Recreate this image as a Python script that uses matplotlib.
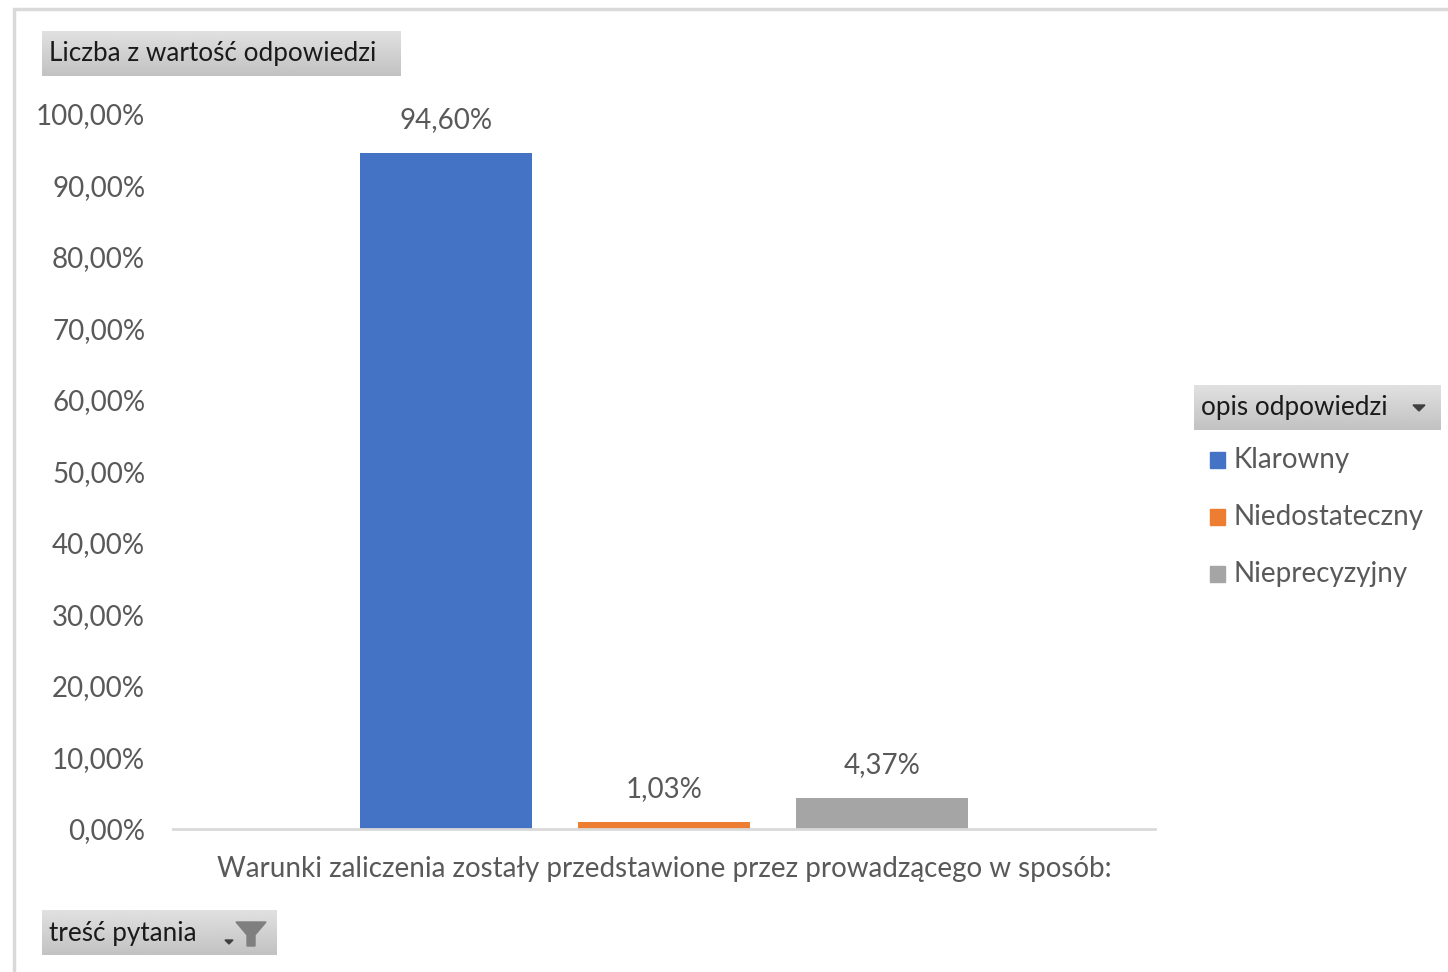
import numpy as np
import matplotlib
matplotlib.use("Agg")
import matplotlib.pyplot as plt
from matplotlib.patches import Rectangle, Polygon

# data
categories = ["Klarowny", "Niedostateczny", "Nieprecyzyjny"]
values = [94.60, 1.03, 4.37]
colors = ["#4472C4", "#ED7D31", "#A5A5A5"]
yticks = [0, 10, 20, 30, 40, 50, 60, 70, 80, 90, 100]
xlabel = "Warunki zaliczenia zostały przedstawione przez prowadzącego w sposób:"
title_box = "Liczba z wartość odpowiedzi"
legend_title = "opis odpowiedzi"
filter_box = "treść pytania"

W, H = 1448, 972
plt.rcParams['font.family'] = ['Lato', 'DejaVu Sans']
txt_col = "#595959"
fs = 20
fs_box = 18.8

fig = plt.figure(figsize=(W / 100, H / 100), dpi=100)


def fx(px):
    return px / W


def fy(py):
    return 1 - py / H


def gray_box(x0, y0, x1, y1):
    # gradient button like the Excel pivot field buttons
    bax = fig.add_axes([fx(x0), fy(y1), fx(x1 - x0), (y1 - y0) / H])
    grad = np.linspace(0.88, 0.76, 50).reshape(-1, 1)
    bax.imshow(grad, cmap="gray", vmin=0, vmax=1, aspect="auto",
               extent=[0, 1, 0, 1], origin="upper")
    bax.set_axis_off()
    return bax


# outer chart frame
fig.patches.append(Rectangle((fx(14), fy(H + 20)), 1.2, (H + 11) / H,
                             transform=fig.transFigure, fill=False,
                             edgecolor="#d9d9d9", linewidth=2.5))

ax = fig.add_axes([fx(173), fy(829), fx(1155 - 173), (829 - 114) / H])
x = np.arange(len(values)) - 1
bars = ax.bar(x, values, width=0.79, color=colors)
ax.set_xlim(-2.252, 2.252)
ax.set_ylim(0, 100)
ax.set_yticks(yticks)
ax.set_yticklabels([f"{t:.2f}%".replace(".", ",") for t in yticks],
                   fontsize=fs, color=txt_col)
ax.tick_params(axis="y", length=0, pad=20)
ax.set_xticks([])
for s in ["top", "right", "left"]:
    ax.spines[s].set_visible(False)
ax.spines["bottom"].set_color("#d9d9d9")
ax.spines["bottom"].set_linewidth(2)

for xi, v in zip(x, values):
    ax.annotate(f"{v:.2f}%".replace(".", ","), (xi, v), xytext=(0, 14),
                textcoords="offset points", ha="center", va="bottom",
                fontsize=fs, color=txt_col)

fig.text(fx(664), fy(869), xlabel, ha="center", va="center",
         fontsize=fs, color=txt_col)

# field buttons
gray_box(42, 31, 401, 76)
fig.text(fx(49), fy(54), title_box, ha="left", va="center",
         fontsize=fs_box, color="#1a1a1a")

gray_box(42, 910, 277, 955)
fig.text(fx(49), fy(933), filter_box, ha="left", va="center",
         fontsize=fs_box, color="#1a1a1a")
funnel = [(236, 922), (266, 922), (255, 935), (255, 946), (247, 946), (247, 935)]
fig.patches.append(Polygon([(fx(a), fy(b)) for a, b in funnel], closed=True,
                           transform=fig.transFigure, color="#7f7f7f"))
fig.patches.append(Polygon([(fx(225), fy(940)), (fx(233), fy(940)),
                            (fx(229), fy(944))], closed=True,
                           transform=fig.transFigure, color="#404040"))

gray_box(1194, 385, 1441, 430)
fig.text(fx(1201), fy(408), legend_title, ha="left", va="center",
         fontsize=fs_box, color="#1a1a1a")
fig.patches.append(Polygon([(fx(1413), fy(405)), (fx(1425), fy(405)),
                            (fx(1419), fy(411))], closed=True,
                           transform=fig.transFigure, color="#404040"))

# legend
for i, (lab, c) in enumerate(zip(categories, colors)):
    yy = 460 + i * 57
    fig.patches.append(Rectangle((fx(1210), fy(yy + 8)), fx(15), 16 / H,
                                 transform=fig.transFigure, color=c))
    fig.text(fx(1233), fy(yy), lab, ha="left", va="center",
             fontsize=fs, color=txt_col)

fig.savefig("out.png", dpi=100)
